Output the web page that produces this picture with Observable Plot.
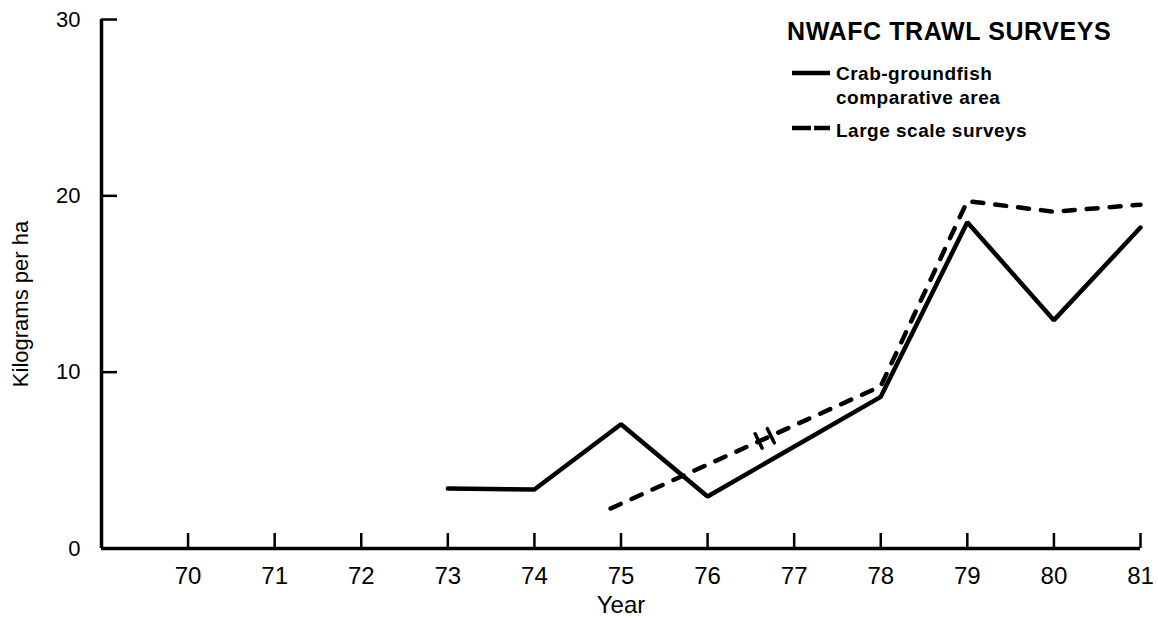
<!DOCTYPE html>
<html>
<head>
<meta charset="utf-8">
<script src="https://cdn.jsdelivr.net/npm/d3@7"></script>
<script src="https://cdn.jsdelivr.net/npm/@observablehq/plot@0.6"></script>
<style>
  body { margin: 0; background: #fff; }
  #wrap { position: relative; width: 1158px; height: 623px; font-family: "Liberation Sans", Arial, Helvetica, sans-serif; }
  #legend { position: absolute; left: 0; top: 0; pointer-events: none; }
</style>
</head>
<body>
<div id="wrap">
  <div id="chart"></div>
  <svg id="legend" width="1158" height="160" font-family="Liberation Sans, Arial, Helvetica, sans-serif">
    <text x="787" y="40" font-size="25" font-weight="bold" letter-spacing="0.6">NWAFC TRAWL SURVEYS</text>
    <line x1="792" x2="830" y1="73" y2="73" stroke="#000" stroke-width="4.5"/>
    <text x="836" y="80" font-size="19" font-weight="bold" letter-spacing="0.5">Crab-groundfish</text>
    <text x="836" y="104" font-size="19" font-weight="bold" letter-spacing="0.5">comparative area</text>
    <line x1="792" x2="830" y1="128" y2="128" stroke="#000" stroke-width="4.5" stroke-dasharray="19,3"/>
    <text x="836" y="137" font-size="19" font-weight="bold" letter-spacing="0.5">Large scale surveys</text>
  </svg>
</div>
<script>
// Crab-groundfish comparative area (solid)
const crabYears  = [73, 74, 75, 76, 78, 79, 80, 81];
const crabValues = [3.4, 3.35, 7.05, 2.95, 8.6, 18.5, 12.95, 18.2];
// Large scale surveys (dashed)
const largeYears  = [74.88, 78, 79, 80, 81];
const largeValues = [2.27, 9.2, 19.7, 19.1, 19.5];
// Break marks on the dashed line
const breakYears  = [76.59, 76.73];
const breakValues = [6.1, 6.4];
// Ticks
const xTicks = [70, 71, 72, 73, 74, 75, 76, 77, 78, 79, 80, 81];
const yTicks = [0, 10, 20, 30];

const crab  = crabYears.map((x, i) => ({x, y: crabValues[i]}));
const large = largeYears.map((x, i) => ({x, y: largeValues[i]}));
const breaks = breakYears.map((x, i) => ({x, y: breakValues[i]}));

const tickShape = {draw(context, l) { context.moveTo(0, 0); context.lineTo(0, -l); }};

const chart = Plot.plot({
  width: 1158,
  height: 623,
  marginLeft: 101,
  marginRight: 18,
  marginTop: 19,
  marginBottom: 75,
  x: {domain: [69, 81]},
  y: {domain: [0, 30]},
  style: {fontFamily: "Liberation Sans, Arial, Helvetica, sans-serif", color: "#000", background: "#fff"},
  marks: [
    Plot.axisX(xTicks, {tickSize: -15, tickPadding: 33, strokeWidth: 2.5, fontSize: 24, tickFormat: d => String(d), label: null}),
    Plot.axisY(yTicks, {tickSize: -16, tickPadding: 37, strokeWidth: 2.5, fontSize: 22, letterSpacing: 1, tickFormat: d => String(d), label: null}),
    Plot.ruleY([0], {strokeWidth: 3.5, stroke: "#000"}),
    Plot.ruleX([69], {strokeWidth: 3.5, stroke: "#000"}),
    Plot.line(crab, {x: "x", y: "y", stroke: "#000", strokeWidth: 4.5, strokeLinejoin: "miter", strokeLinecap: "round"}),
    Plot.line(large, {x: "x", y: "y", stroke: "#000", strokeWidth: 4.5, strokeDasharray: "11,12", strokeLinecap: "round", strokeLinejoin: "miter"}),
    Plot.vector(breaks, {x: "x", y: "y", length: 16, rotate: -26, anchor: "middle", stroke: "#000", strokeWidth: 3.5, strokeLinecap: "round", shape: tickShape}),
    Plot.text(["Year"], {frameAnchor: "bottom", dy: 64, fontSize: 24, fill: "#000"}),
    Plot.text(["Kilograms per ha"], {frameAnchor: "left", textAnchor: "middle", dx: -81, dy: 20, rotate: -90, fontSize: 22, letterSpacing: 1.6, fill: "#000"})
  ]
});
document.getElementById("chart").appendChild(chart);
</script>
</body>
</html>
